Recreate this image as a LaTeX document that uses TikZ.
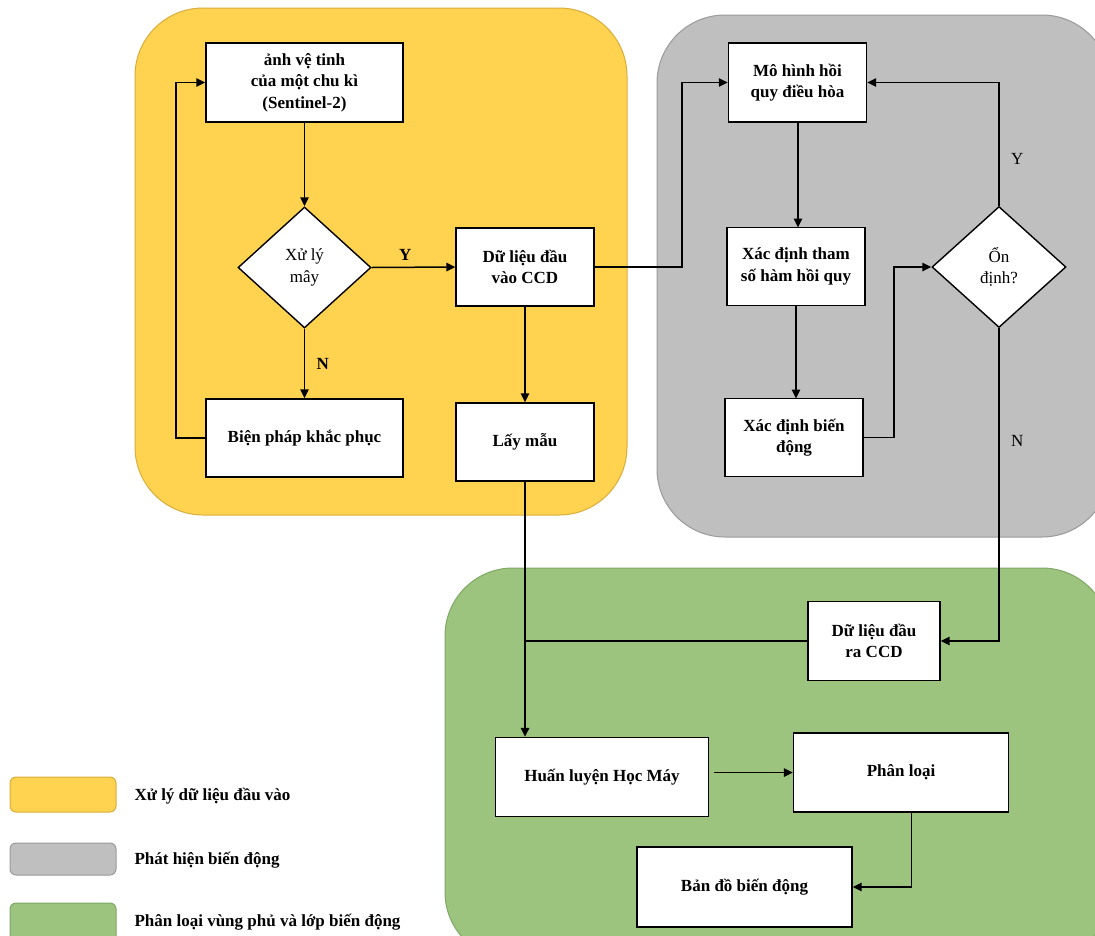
\documentclass[tikz,border=0pt]{standalone}
\usepackage{fontspec}
\setmainfont{Liberation Serif}
\usetikzlibrary{arrows.meta,shapes.geometric,calc}
\definecolor{yfill}{HTML}{FFD24F}
\definecolor{ydraw}{HTML}{D9AE3C}
\definecolor{gfill}{HTML}{BFBFBF}
\definecolor{gdraw}{HTML}{9A9A9A}
\definecolor{grfill}{HTML}{9CC47E}
\definecolor{grdraw}{HTML}{7FA866}
\tikzset{
  txt/.style={font=\fontsize{17}{21.5}\selectfont},
  stepbox/.style={draw=black, line width=1.4pt, fill=white, align=center, inner sep=0pt,
    font=\fontsize{17}{21.5}\selectfont\bfseries},
  decis/.style={draw=black, line width=1.4pt, fill=white, diamond, align=center, inner sep=0pt,
    font=\fontsize{17}{21.5}\selectfont},
  conn/.style={line width=1.5pt, -{Triangle[length=9pt,width=8.5pt]}},
  line/.style={line width=1.5pt},
  region/.style={line width=1pt, rounded corners=68pt},
  legbox/.style={line width=1pt, rounded corners=6pt},
  lbl/.style={font=\fontsize{17}{21.5}\selectfont},
}
\begin{document}
\begin{tikzpicture}[x=1pt,y=-1pt]
\useasboundingbox (0,0) rectangle (1095,935);
\clip (0,0) rectangle (1095,935);
% regions
\draw[region, fill=yfill, draw=ydraw] (135,8) rectangle (627,515);
\draw[region, fill=gfill, draw=gdraw] (657,15) rectangle (1110,537);
\draw[region, fill=grfill, draw=grdraw] (445,568) rectangle (1110,960);

% yellow nodes
\node[stepbox, minimum width=197pt, minimum height=79pt] (anh) at (304.5,82.5) {ảnh vệ tinh\\của một chu kì\\(Sentinel-2)};
\node[decis, minimum width=133pt, minimum height=121pt, aspect=1.1] (xl) at (304.5,267.5) {Xử lý\\mây};
\node[stepbox, minimum width=197pt, minimum height=78pt] (bp) at (304.5,438) {Biện pháp khắc phục};
\node[stepbox, minimum width=138pt, minimum height=78pt] (dlv) at (525,267) {Dữ liệu đầu\\vào CCD};
\node[stepbox, minimum width=138pt, minimum height=78pt] (lm) at (525,442) {Lấy mẫu};

% gray nodes
\node[stepbox, minimum width=138pt, minimum height=79pt] (mh) at (797.5,82.5) {Mô hình hồi\\quy điều hòa};
\node[stepbox, minimum width=138pt, minimum height=78pt] (xt) at (796,266.5) {Xác định tham\\số hàm hồi quy};
\node[stepbox, minimum width=138pt, minimum height=78pt] (xb) at (794,437.5) {Xác định biến\\động};
\node[decis, minimum width=134pt, minimum height=121pt, aspect=1.1] (od) at (999,267) {Ổn\\định?};

% green nodes
\node[stepbox, minimum width=132pt, minimum height=79pt] (dlr) at (874,641) {Dữ liệu đầu\\ra CCD};
\node[stepbox, minimum width=213pt, minimum height=79pt] (hl) at (602,777) {Huấn luyện Học Máy};
\node[stepbox, minimum width=215pt, minimum height=79pt] (pl) at (901,772.5) {Phân loại};
\node[stepbox, minimum width=215pt, minimum height=80pt] (bd) at (744.5,887) {Bản đồ biến động};

% connectors yellow
\draw[conn] (anh.south) -- (xl.north);
\draw[conn] (xl.east) -- node[pos=0.4, lbl, above=3pt, font=\fontsize{17}{21.5}\selectfont\bfseries] (ylab) {Y} (dlv.west);
\draw[conn] (xl.south) -- node[lbl, right=8pt, font=\fontsize{17}{21.5}\selectfont\bfseries] (nlab) {N} (bp.north);
\coordinate (loopL) at (176,438);
\draw[conn] (bp.west) -- (loopL) |- (anh.west);
\draw[conn] (dlv.south) -- (lm.north);
\coordinate (jA) at (682,267);
\draw[conn] (dlv.east) -- (jA) |- (mh.west);

% connectors gray
\draw[conn] (mh.south -| 798,0) -- (798,227.5);
\draw[conn] (xt.south -| 796,0) -- (796,398.5);
\coordinate (jB) at (894,437.5);
\draw[conn] (xb.east) -- (jB) |- (od.west);
\draw[conn] (od.north) |- node[pos=0.19, lbl, right=8pt] (ylab2) {Y} (mh.east);
\draw[conn] (od.south) |- node[pos=0.18, lbl, right=8pt] (nlab2) {N} (dlr.east);

% connectors green
\draw[conn] (lm.south) -- (lm.south |- hl.north);
\draw[line] (dlr.west) -- (lm.south |- dlr.west);
\draw[conn] ([xshift=5pt]hl.east |- pl.west) -- (pl.west);
\draw[conn] ([xshift=10.5pt]pl.south) |- (bd.east);

% legend
\draw[legbox, fill=yfill, draw=ydraw] (10,777) rectangle (116,812);
\draw[legbox, fill=gfill, draw=gdraw] (10,843) rectangle (116,875);
\draw[legbox, fill=grfill, draw=grdraw] (10,903) rectangle (116,945);
\node[lbl, font=\fontsize{17}{21.5}\selectfont\bfseries, anchor=west] (l1) at (131,796) {Xử lý dữ liệu đầu vào};
\node[lbl, font=\fontsize{17}{21.5}\selectfont\bfseries, anchor=west] (l2) at (131,860) {Phát hiện biến động};
\node[lbl, font=\fontsize{17}{21.5}\selectfont\bfseries, anchor=west] (l3) at (131,922) {Phân loại vùng phủ và lớp biến động};
\end{tikzpicture}
\end{document}
